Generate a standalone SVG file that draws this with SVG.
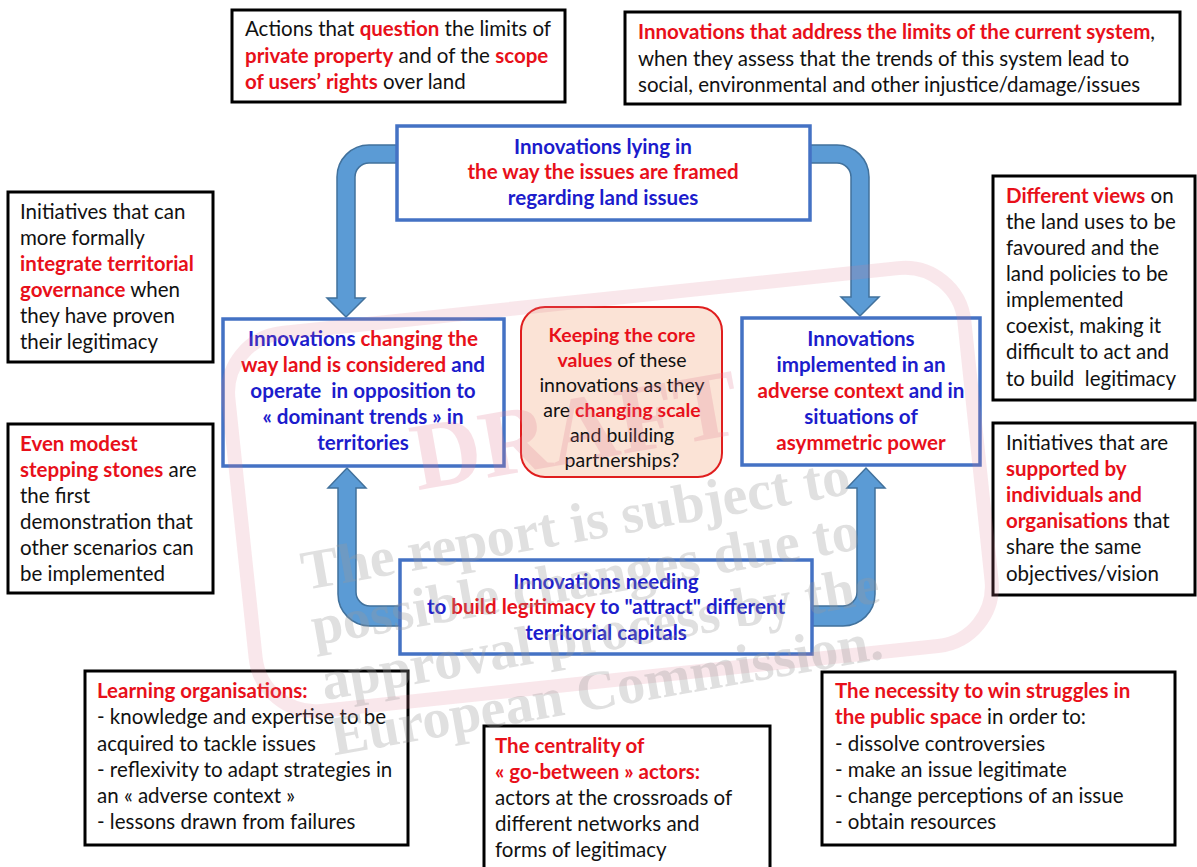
<svg xmlns="http://www.w3.org/2000/svg" width="1197" height="867" viewBox="0 0 1197 867">
<style>
text{font-family:Lato,"Open Sans","Liberation Sans",sans-serif;font-size:20.5px;fill:#111}
.c{text-anchor:middle}
.b{font-weight:bold}
.r{fill:#e8101a;font-weight:bold}
.u{fill:#1c1ccc;font-weight:bold}
.bl{font-size:20.6px}
.k{font-size:19.5px}
.box{fill:#fff;stroke:#000;stroke-width:3}
.bbox{fill:#fff;stroke:#4472c4;stroke-width:3.5}
.arr{fill:#5b9bd5;stroke:#41719c;stroke-width:1.5;stroke-linejoin:miter}
.wm{font-family:"Liberation Serif","DejaVu Serif",serif;font-weight:bold;font-size:56px;fill:#9a9a9a;opacity:0.3}
</style>
<rect width="1197" height="867" fill="#fff"/>
<g id="connectors">
<path class="arr" d="M397,145 L369,145 A32,32 0 0 0 337,177 L337,298 L327,298 L346,317 L365,298 L355,298 L355,177 A14,14 0 0 1 369,163 L397,163 Z"/>
<path class="arr" d="M810,145 L837,145 A32,32 0 0 1 869,177 L869,297 L879,297 L860,316 L841,297 L851,297 L851,177 A14,14 0 0 0 837,163 L810,163 Z"/>
<path class="arr" d="M400,626 L370,626 A32,32 0 0 1 338,594 L338,488 L328,488 L347,468 L366,488 L356,488 L356,592 A14,14 0 0 0 370,606 L400,606 Z"/>
<path class="arr" d="M812,626 L843,626 A32,32 0 0 0 875,594 L875,488 L885,488 L866,468 L847,488 L857,488 L857,592 A14,14 0 0 1 843,606 L812,606 Z"/>
</g>
<g id="node-actions">
<rect class="box" x="232" y="10" width="333" height="92"/>
<text x="245" y="36">Actions that <tspan class="r">question</tspan> the limits of</text>
<text x="245" y="63"><tspan class="r">private property</tspan> and of the <tspan class="r">scope</tspan></text>
<text x="245" y="89"><tspan class="r">of users’ rights</tspan> over land</text>
</g>
<g id="node-limits">
<rect class="box" x="625" y="12" width="555" height="92"/>
<text x="638" y="39"><tspan class="r">Innovations that address the limits of the current system</tspan>,</text>
<text x="638" y="66">when they assess that the trends of this system lead to</text>
<text x="638" y="92">social, environmental and other injustice/damage/issues</text>
</g>
<g id="node-framed">
<rect class="bbox" x="397" y="126" width="413" height="94"/>
<text class="c bl" x="603" y="154"><tspan class="u">Innovations lying in</tspan></text>
<text class="c bl" x="603" y="179"><tspan class="r">the way the issues are framed</tspan></text>
<text class="c bl" x="603" y="205"><tspan class="u">regarding land issues</tspan></text>
</g>
<g id="node-integrate">
<rect class="box" x="8" y="192" width="205" height="170"/>
<text x="20" y="219">Initiatives that can</text>
<text x="20" y="245">more formally</text>
<text x="20" y="271"><tspan class="r">integrate territorial</tspan></text>
<text x="20" y="297"><tspan class="r">governance</tspan> when</text>
<text x="20" y="323">they have proven</text>
<text x="20" y="349">their legitimacy</text>
</g>
<g id="node-modest">
<rect class="box" x="8" y="424" width="205" height="169"/>
<text x="20" y="451"><tspan class="r">Even modest</tspan></text>
<text x="20" y="477"><tspan class="r">stepping stones</tspan> are</text>
<text x="20" y="503">the first</text>
<text x="20" y="529">demonstration that</text>
<text x="20" y="555">other scenarios can</text>
<text x="20" y="581">be implemented</text>
</g>
<g id="node-views">
<rect class="box" x="993" y="176" width="202" height="224"/>
<text x="1006" y="203"><tspan class="r">Different views</tspan> on</text>
<text x="1006" y="229">the land uses to be</text>
<text x="1006" y="255">favoured and the</text>
<text x="1006" y="281">land policies to be</text>
<text x="1006" y="307">implemented</text>
<text x="1006" y="333">coexist, making it</text>
<text x="1006" y="359">difficult to act and</text>
<text x="1006" y="386">to build &#160;legitimacy</text>
</g>
<g id="node-supported">
<rect class="box" x="993" y="423" width="202" height="172"/>
<text x="1006" y="450">Initiatives that are</text>
<text x="1006" y="476"><tspan class="r">supported by</tspan></text>
<text x="1006" y="502"><tspan class="r">individuals and</tspan></text>
<text x="1006" y="528"><tspan class="r">organisations</tspan> that</text>
<text x="1006" y="554">share the same</text>
<text x="1006" y="581">objectives/vision</text>
</g>
<g id="node-changing">
<rect class="bbox" x="223" y="319" width="281" height="147"/>
<text class="c bl" x="363" y="346"><tspan class="u">Innovations </tspan><tspan class="r">changing the</tspan></text>
<text class="c bl" x="363" y="372"><tspan class="r">way land is considered</tspan><tspan class="u"> and</tspan></text>
<text class="c bl" x="363" y="398"><tspan class="u">operate &#160;in opposition to</tspan></text>
<text class="c bl" x="363" y="424"><tspan class="u">« dominant trends » in</tspan></text>
<text class="c bl" x="363" y="450"><tspan class="u">territories</tspan></text>
</g>
<g id="node-core">
<rect x="521" y="307" width="201" height="170" rx="24" fill="#fbe3d6" stroke="#e01e1e" stroke-width="2"/>
<text class="c k" x="622" y="342"><tspan class="r">Keeping the core</tspan></text>
<text class="c k" x="622" y="367"><tspan class="r">values</tspan> of these</text>
<text class="c k" x="622" y="392">innovations as they</text>
<text class="c k" x="622" y="417">are <tspan class="r">changing scale</tspan></text>
<text class="c k" x="622" y="442">and building</text>
<text class="c k" x="622" y="467">partnerships?</text>
</g>
<g id="node-adverse">
<rect class="bbox" x="742" y="318" width="238" height="147"/>
<text class="c bl" x="861" y="346"><tspan class="u">Innovations</tspan></text>
<text class="c bl" x="861" y="372"><tspan class="u">implemented in an</tspan></text>
<text class="c bl" x="861" y="398"><tspan class="r">adverse context</tspan><tspan class="u"> and in</tspan></text>
<text class="c bl" x="861" y="424"><tspan class="u">situations of</tspan></text>
<text class="c bl" x="861" y="450"><tspan class="r">asymmetric power</tspan></text>
</g>
<g id="node-legitimacy">
<rect class="bbox" x="400" y="560" width="412" height="94"/>
<text class="c bl" x="606" y="589"><tspan class="u">Innovations needing</tspan></text>
<text class="c bl" x="606" y="614"><tspan class="u">to </tspan><tspan class="r">build legitimacy</tspan><tspan class="u"> to "attract" different</tspan></text>
<text class="c bl" x="606" y="640"><tspan class="u">territorial capitals</tspan></text>
</g>
<g id="node-learning">
<rect class="box" x="85" y="671" width="323" height="174"/>
<text x="97" y="698"><tspan class="r">Learning organisations:</tspan></text>
<text x="97" y="724">- knowledge and expertise to be</text>
<text x="97" y="751">acquired to tackle issues</text>
<text x="97" y="777">- reflexivity to adapt strategies in</text>
<text x="97" y="803">an « adverse context »</text>
<text x="97" y="829">- lessons drawn from failures</text>
</g>
<g id="node-gobetween">
<rect class="box" x="484" y="726" width="286" height="146"/>
<text x="495" y="753"><tspan class="r">The centrality of</tspan></text>
<text x="495" y="779"><tspan class="r">« go-between » actors:</tspan></text>
<text x="495" y="805">actors at the crossroads of</text>
<text x="495" y="831">different networks and</text>
<text x="495" y="857">forms of legitimacy</text>
</g>
<g id="node-struggles">
<rect class="box" x="822" y="672" width="353" height="173"/>
<text x="835" y="698"><tspan class="r">The necessity to win struggles in</tspan></text>
<text x="835" y="724"><tspan class="r">the public space</tspan> in order to:</text>
<text x="835" y="751">- dissolve controversies</text>
<text x="835" y="777">- make an issue legitimate</text>
<text x="835" y="803">- change perceptions of an issue</text>
<text x="835" y="829">- obtain resources</text>
</g>
<g id="watermark">
<rect x="240" y="300" width="740" height="380" rx="60" transform="rotate(-6 605 490)" fill="none" stroke="#e07890" stroke-width="14" opacity="0.18"/>
<text x="575" y="462" transform="rotate(-10 575 430)" text-anchor="middle" style="font-family:'Liberation Serif',serif;font-weight:bold;font-size:96px;fill:#e07890;opacity:0.22">DRAFT</text>
<g transform="rotate(-10 305 590)">
<text class="wm" x="305" y="590">The report is subject to</text>
<text class="wm" x="305" y="646">possible changes due to</text>
<text class="wm" x="305" y="702">approval process by the</text>
<text class="wm" x="305" y="758">European Commission.</text>
</g>
</g>
</svg>
